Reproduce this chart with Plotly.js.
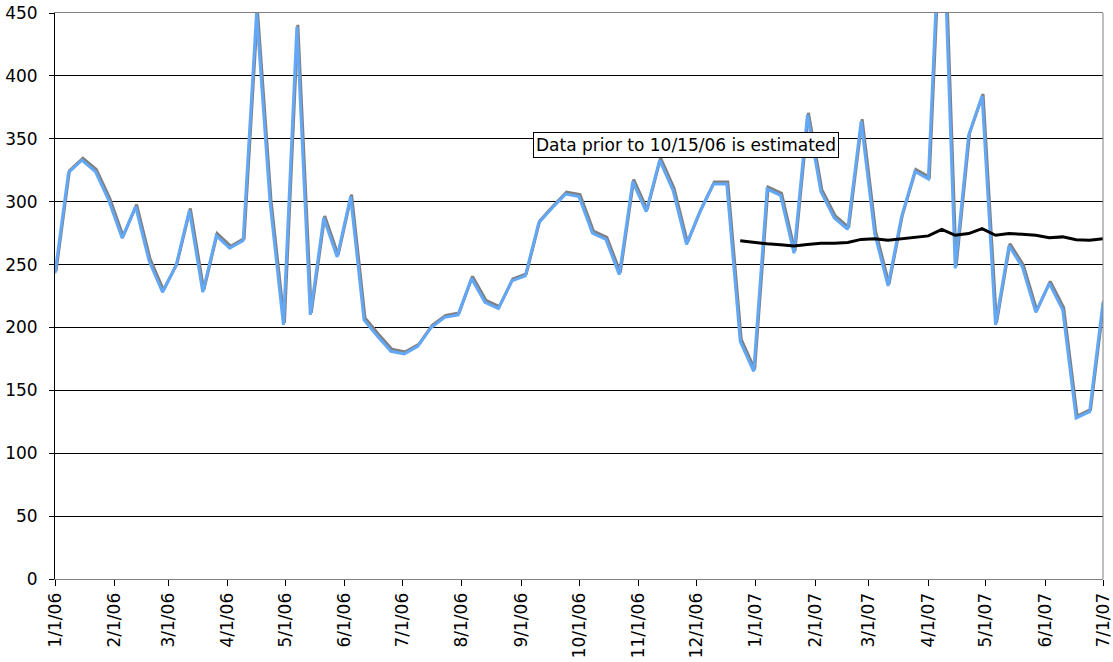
<!DOCTYPE html>
<html>
<head>
<meta charset="utf-8">
<script src="https://cdn.plot.ly/plotly-3.0.1.min.js"></script>
<style>html,body{margin:0;padding:0;background:#fff;}#chart{width:1113px;height:662px;}</style>
</head>
<body>
<div id="chart"></div>
<script>
const weeks = [
 "2006-01-01","2006-01-08","2006-01-15","2006-01-22","2006-01-29",
 "2006-02-05","2006-02-12","2006-02-19","2006-02-26",
 "2006-03-05","2006-03-12","2006-03-19","2006-03-26",
 "2006-04-02","2006-04-09","2006-04-16","2006-04-23","2006-04-30",
 "2006-05-07","2006-05-14","2006-05-21","2006-05-28",
 "2006-06-04","2006-06-11","2006-06-18","2006-06-25",
 "2006-07-02","2006-07-09","2006-07-16","2006-07-23","2006-07-30",
 "2006-08-06","2006-08-13","2006-08-20","2006-08-27",
 "2006-09-03","2006-09-10","2006-09-17","2006-09-24",
 "2006-10-01","2006-10-08","2006-10-15","2006-10-22","2006-10-29",
 "2006-11-05","2006-11-12","2006-11-19","2006-11-26",
 "2006-12-03","2006-12-10","2006-12-17","2006-12-24","2006-12-31",
 "2007-01-07","2007-01-14","2007-01-21","2007-01-28",
 "2007-02-04","2007-02-11","2007-02-18","2007-02-25",
 "2007-03-04","2007-03-11","2007-03-18","2007-03-25",
 "2007-04-01","2007-04-08","2007-04-15","2007-04-22","2007-04-29",
 "2007-05-06","2007-05-13","2007-05-20","2007-05-27",
 "2007-06-03","2007-06-10","2007-06-17","2007-06-24","2007-07-01"
];
const weeklyValues = [
 243,323,333,324,301,
 271,296,253,228,
 249,293,228,273,
 263,269,450,300,202,
 439,210,287,256,
 304,206,193,181,
 179,185,200,208,210,
 239,220,215,237,
 241,283,295,306,
 304,275,270,242,316,
 292,333,309,266,
 292,314,314,189,165,
 310,305,259,369,
 308,287,278,364,
 275,233,288,324,
 318,560,247,353,384,
 202,265,248,212,
 235,214,128,133,220
];
const avgWeeks = weeks.slice(51);
const avgValues = [
 269,267.5,266.5,265.8,264.8,266,266.9,266.9,267.5,270,270.6,269.4,270.6,271.7,
 272.8,278,273.3,274.6,278.6,273.3,274.6,274,273.3,271.4,272,269.8,269.3,270.6
];
const yTicks = [0,50,100,150,200,250,300,350,400,450];
const noteText = "Data prior to 10/15/06 is estimated";

const FONT = "Verdana, 'DejaVu Sans', sans-serif";
const traces = [
 {x: weeks, y: weeklyValues, xaxis:'x2', yaxis:'y2', type:'scatter', mode:'lines',
  line:{color:'#808080', width:3}, hoverinfo:'skip', showlegend:false},
 {x: weeks, y: weeklyValues, xaxis:'x3', yaxis:'y3', type:'scatter', mode:'lines',
  line:{color:'#63a8f7', width:3}, showlegend:false},
 {x: avgWeeks, y: avgValues, xaxis:'x3', yaxis:'y3', type:'scatter', mode:'lines',
  line:{color:'#000000', width:3}, showlegend:false}
];
const layout = {
 width:1113, height:662,
 margin:{l:55, r:10, t:13, b:83},
 paper_bgcolor:'#fff', plot_bgcolor:'#fff',
 font:{family:FONT, size:17, color:'#000'},
 showlegend:false,
 xaxis:{type:'date', range:['2006-01-01','2007-07-01'], tick0:'2006-01-01', dtick:'M1',
  tickformat:'%-m/%-d/%y', tickangle:-90, ticks:'outside', ticklen:6, tickcolor:'#000',
  showgrid:false, zeroline:false, showline:true, linecolor:'#808080', linewidth:1, mirror:true,
  tickfont:{family:FONT, size:17, color:'#000'}},
 yaxis:{range:[0,450], tickvals:yTicks, ticktext:yTicks.map(String), ticks:'outside', ticklen:5, tickcolor:'#000',
  ticklabelstandoff:8,
  showgrid:true, gridcolor:'#000', gridwidth:1, zeroline:false, showline:true, linecolor:'#000', linewidth:1,
  tickfont:{family:FONT, size:17, color:'#000'}},
 xaxis2:{type:'date', overlaying:'x', range:['2005-12-31 11:30','2007-06-30 11:30'], visible:false},
 yaxis2:{overlaying:'y', range:[-1.6,448.4], visible:false},
 xaxis3:{type:'date', overlaying:'x', range:['2006-01-01','2007-07-01'], visible:false},
 yaxis3:{overlaying:'y', range:[0,450], visible:false},
 shapes:[{type:'line', xref:'paper', yref:'paper', x0:1, x1:1, y0:0, y1:1, line:{color:'#808080', width:1}}],
 annotations:[{x:'2006-11-26', y:345, xref:'x', yref:'y', text:noteText, showarrow:false,
  bgcolor:'#fff', bordercolor:'#000', borderwidth:1, borderpad:2,
  font:{family:FONT, size:17, color:'#000'}}]
};
Plotly.newPlot('chart', traces, layout, {displayModeBar:false, staticPlot:true});
</script>
</body>
</html>
